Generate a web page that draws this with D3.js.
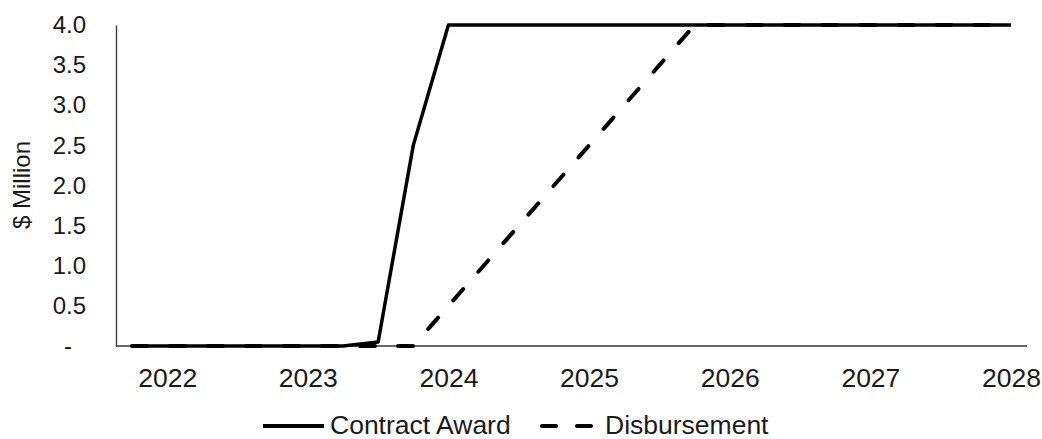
<!doctype html>
<html>
<head>
<meta charset="UTF-8">
<script src="https://d3js.org/d3.v7.min.js"></script>
<style>
body { margin: 0; background: #fff; }
text { font-family: "Liberation Sans", Arial, sans-serif; fill: #1a1a1a; }
.axis path { stroke: #333; stroke-width: 1.3; }
</style>
</head>
<body>
<script>
// quarterly points, one label per year (at Q1)
var quarters = ["2021 Q4",
  "2022 Q1","2022 Q2","2022 Q3","2022 Q4",
  "2023 Q1","2023 Q2","2023 Q3","2023 Q4",
  "2024 Q1","2024 Q2","2024 Q3","2024 Q4",
  "2025 Q1","2025 Q2","2025 Q3","2025 Q4",
  "2026 Q1","2026 Q2","2026 Q3","2026 Q4",
  "2027 Q1","2027 Q2","2027 Q3","2027 Q4",
  "2028 Q1"];
var contractAward = [0,0,0,0,0,0,0,0.05,2.5,4,4,4,4,4,4,4,4,4,4,4,4,4,4,4,4,4];
var disbursement  = [0,0,0,0,0,0,0,0,0,0.5,1,1.5,2,2.5,3,3.5,4,4,4,4,4,4,4,4,4,4];
var yTicks = [0,0.5,1,1.5,2,2.5,3,3.5,4];
var seriesNames = ["Contract Award","Disbursement"];

var w = 1042, h = 439;
var fontSize = 24;    // y axis
var bigFont = 26.5;   // x axis + legend

var svg = d3.select("body").append("svg")
  .attr("width", w)
  .attr("height", h);

var x = d3.scalePoint()
  .domain(quarters)
  .range([116, 1027])
  .padding(0.455);

var y = d3.scaleLinear()
  .domain([0, 4])
  .range([346, 25]);

// axes
var xAxis = svg.append("g")
  .attr("class", "axis")
  .attr("transform", "translate(0,346)")
  .call(d3.axisBottom(x)
    .tickValues(quarters.filter(function(q) { return q.slice(5) == "Q1"; }))
    .tickFormat(function(q) { return q.slice(0,4); })
    .tickSize(0).tickSizeOuter(0).tickPadding(22));
xAxis.selectAll("text").style("font-size", bigFont + "px");

var yAxis = svg.append("g")
  .attr("class", "axis")
  .attr("transform", "translate(116,0)")
  .call(d3.axisLeft(y)
    .tickValues(yTicks)
    .tickFormat(function(d) { return d == 0 ? "-" : d3.format(".1f")(d); })
    .tickSize(0).tickSizeOuter(0).tickPadding(30));
yAxis.selectAll("text").style("font-size", fontSize + "px");
// accounting style dash sits left of the number column
yAxis.selectAll(".tick").filter(function(d) { return d == 0; })
  .select("text").attr("x", -44);
xAxis.select(".domain").attr("d", "M116,0H1027");

svg.append("text")
  .attr("transform", "translate(22,185) rotate(-90)")
  .attr("text-anchor", "middle")
  .attr("dy", "0.35em")
  .style("font-size", fontSize + "px")
  .text("$ Million");

// lines
var line = function(vals) {
  return d3.line()
    .x(function(d, i) { return x(quarters[i]); })
    .y(function(d) { return y(d); })(vals);
};

svg.append("path")
  .attr("d", line(disbursement))
  .attr("fill", "none")
  .attr("stroke", "#000")
  .attr("stroke-width", 4)
  .attr("stroke-linecap", "round")
  .attr("stroke-dasharray", "15,23");

svg.append("path")
  .attr("d", line(contractAward))
  .attr("fill", "none")
  .attr("stroke", "#000")
  .attr("stroke-width", 3.5)
  .attr("stroke-linejoin", "round");

// legend
var legend = svg.append("g");
legend.append("line")
  .attr("x1", 263).attr("x2", 324).attr("y1", 426).attr("y2", 426)
  .attr("stroke", "#000").attr("stroke-width", 4);
legend.append("text")
  .attr("x", 330).attr("y", 433.5)
  .style("font-size", bigFont + "px")
  .text(seriesNames[0]);
legend.append("line")
  .attr("x1", 542).attr("x2", 591).attr("y1", 426).attr("y2", 426)
  .attr("stroke", "#000").attr("stroke-width", 4)
  .attr("stroke-linecap", "round")
  .attr("stroke-dasharray", "14,21");
legend.append("text")
  .attr("x", 605).attr("y", 433.5)
  .style("font-size", bigFont + "px")
  .text(seriesNames[1]);
</script>
</body>
</html>
